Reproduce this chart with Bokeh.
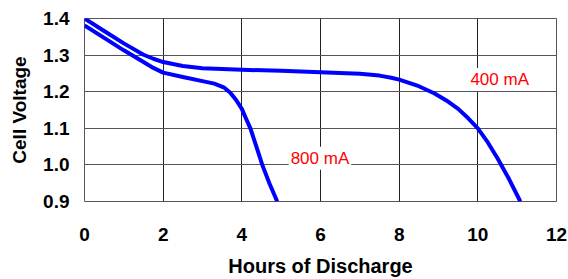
from bokeh.plotting import figure
from bokeh.models import Range1d, FixedTicker, Label, NumeralTickFormatter
from bokeh.embed import file_html
from bokeh.resources import INLINE

# Discharge curves (hours, cell voltage)
hours_400 = [0.0, 0.5, 1.0, 1.5, 1.75, 2.0, 2.5, 3.0, 4.0, 5.0, 6.0, 7.0, 7.5, 7.8, 8.0, 8.5, 8.9, 9.2, 9.5, 9.75, 10.0, 10.25, 10.5, 10.8, 11.08]
volt_400 = [1.400, 1.366, 1.332, 1.301, 1.290, 1.281, 1.270, 1.264, 1.260, 1.257, 1.253, 1.249, 1.244, 1.238, 1.233, 1.215, 1.195, 1.176, 1.153, 1.128, 1.100, 1.062, 1.018, 0.960, 0.900]

hours_800 = [0.0, 0.5, 1.0, 1.5, 1.75, 2.0, 2.5, 3.0, 3.3, 3.54, 3.7, 3.85, 4.0, 4.1, 4.22, 4.37, 4.52, 4.7, 4.9]
volt_800 = [1.381, 1.347, 1.313, 1.281, 1.265, 1.252, 1.240, 1.229, 1.222, 1.212, 1.198, 1.178, 1.153, 1.128, 1.099, 1.050, 1.000, 0.950, 0.900]

x_ticks = [0, 2, 4, 6, 8, 10, 12]
y_ticks = [0.9, 1.0, 1.1, 1.2, 1.3, 1.4]
series_labels = ["400 mA", "800 mA"]

FONT = "Liberation Sans"

p = figure(width=568, height=279, output_backend="svg", toolbar_location=None,
           x_range=Range1d(0, 12), y_range=Range1d(0.9, 1.4),
           min_border_left=84, min_border_right=12, min_border_top=18, min_border_bottom=75)

p.xaxis.ticker = FixedTicker(ticks=x_ticks)
p.yaxis.ticker = FixedTicker(ticks=y_ticks)
p.yaxis.formatter = NumeralTickFormatter(format="0.0")

for ax in (p.xaxis[0], p.yaxis[0]):
    ax.axis_line_color = None
    ax.major_tick_line_color = None
    ax.minor_tick_line_color = None
    ax.major_label_text_font = FONT
    ax.major_label_text_font_style = "bold"
    ax.major_label_text_font_size = "19px"
    ax.major_label_text_color = "black"
    ax.axis_label_text_font = FONT
    ax.axis_label_text_font_style = "bold"
    ax.axis_label_text_color = "black"

p.xaxis.axis_label = "Hours of Discharge"
p.yaxis.axis_label = "Cell Voltage"
p.xaxis.axis_label_text_font_size = "20px"
p.yaxis.axis_label_text_font_size = "19px"
p.xaxis.major_label_standoff = 20
p.xaxis.axis_label_standoff = 11
p.yaxis.major_label_standoff = 9
p.yaxis.axis_label_standoff = 10

p.xgrid.ticker = FixedTicker(ticks=x_ticks)
p.ygrid.ticker = FixedTicker(ticks=y_ticks)
p.xgrid.grid_line_color = "#222222"
p.ygrid.grid_line_color = "#555555"
p.xgrid.grid_line_width = 1
p.ygrid.grid_line_width = 1

p.outline_line_color = "#555555"
p.outline_line_width = 1
p.background_fill_color = "white"
p.border_fill_color = "white"

p.line(hours_400, volt_400, line_color="#0000FF", line_width=4, line_join="round")
p.line(hours_800, volt_800, line_color="#0000FF", line_width=4, line_join="round")

lab1 = Label(x=9.76, y=1.2333, text=series_labels[0], text_color="red",
             text_font=FONT, text_font_size="17px", text_baseline="alphabetic",
             background_fill_color="white", padding=2)
lab2 = Label(x=5.19, y=1.018, text=series_labels[1], text_color="red",
             text_font=FONT, text_font_size="17px", text_baseline="alphabetic",
             background_fill_color="white", padding=2)
p.add_layout(lab1)
p.add_layout(lab2)

open("out.html", "w").write(file_html(p, INLINE))
